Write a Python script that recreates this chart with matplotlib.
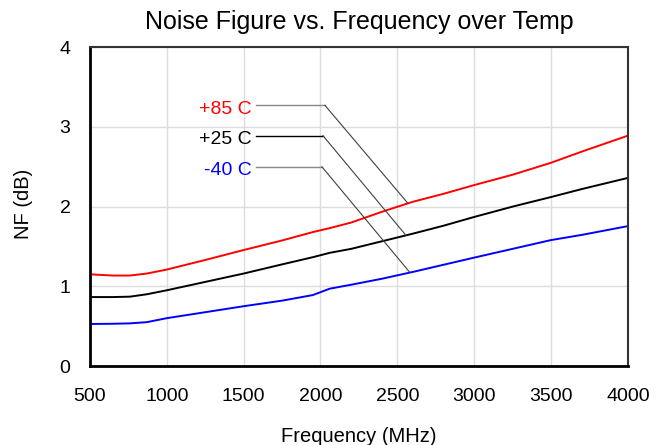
"""Noise figure vs. frequency over temperature."""

import matplotlib
matplotlib.use("Agg")
import matplotlib.pyplot as plt
import numpy as np

plt.rcParams["font.family"] = ["Liberation Sans", "DejaVu Sans"]

freq_mhz = [500, 650, 760, 870, 1000, 1250, 1500, 1750, 1950, 2060, 2200,
            2400, 2600, 2800, 3000, 3250, 3500, 3700, 4000]
nf_p85 = [1.15, 1.135, 1.135, 1.16, 1.21, 1.33, 1.455, 1.575, 1.68, 1.73, 1.80,
          1.935, 2.06, 2.16, 2.27, 2.40, 2.55, 2.69, 2.89]
nf_p25 = [0.865, 0.865, 0.87, 0.90, 0.95, 1.055, 1.16, 1.275, 1.365, 1.42, 1.47,
          1.565, 1.66, 1.76, 1.87, 2.0, 2.12, 2.22, 2.36]
nf_m40 = [0.527, 0.53, 0.535, 0.55, 0.60, 0.675, 0.75, 0.82, 0.89, 0.97, 1.02,
          1.095, 1.18, 1.27, 1.36, 1.47, 1.58, 1.645, 1.755]

series = [
    ("+85 C", nf_p85, "#ff0000"),
    ("+25 C", nf_p25, "#000000"),
    ("-40 C", nf_m40, "#0000ff"),
]
# label text position, leader elbow, leader tip (data coords)
label_pos = [(1560, 3.27), (1560, 2.89), (1560, 2.50)]
elbow_x = [2029, 2016, 2009]
tip_x = [2569, 2556, 2582]
leader_color = ["#888888", "#000000", "#888888"]

fig = plt.figure(figsize=(6.61, 4.45), dpi=100)
ax = fig.add_axes([0.136, 0.1775, 0.814, 0.7165])

for name, values, color in series:
    ax.plot(freq_mhz, values, color=color, lw=1.4)

for i, (name, values, color) in enumerate(series):
    lx, ly = label_pos[i]
    tip_y = np.interp(tip_x[i], freq_mhz, values)
    ax.text(lx - 10, ly - 0.05, name, color=color, fontsize=14,
            ha="right", va="center")
    ax.plot([lx + 20, elbow_x[i]], [ly, ly], color=leader_color[i], lw=1.0)
    ax.plot([elbow_x[i], tip_x[i]], [ly, tip_y], color="#404040", lw=0.8)

ax.set_xlim(500, 4000)
ax.set_ylim(0, 4)
ax.set_xticks(range(500, 4001, 500))
ax.set_yticks(range(0, 5))
ax.grid(True, color="#dddddd", lw=1.0)
ax.set_axisbelow(True)
ax.tick_params(length=0, labelsize=14)
ax.tick_params(axis="x", pad=16)
ax.tick_params(axis="y", pad=14)

for side in ("left", "bottom"):
    ax.spines[side].set_linewidth(2.0)
    ax.spines[side].set_color("black")
for side in ("top", "right"):
    ax.spines[side].set_linewidth(1.5)
    ax.spines[side].set_color("#333333")

ax.set_title("Noise Figure vs. Frequency over Temp", fontsize=18, pad=13)
ax.set_xlabel("Frequency (MHz)", fontsize=14.5)
ax.set_ylabel("NF (dB)", fontsize=14.5)
ax.xaxis.set_label_coords(0.5, -0.19)
ax.yaxis.set_label_coords(-0.106, 0.51)

fig.savefig("out.png", dpi=100)
plt.close(fig)
